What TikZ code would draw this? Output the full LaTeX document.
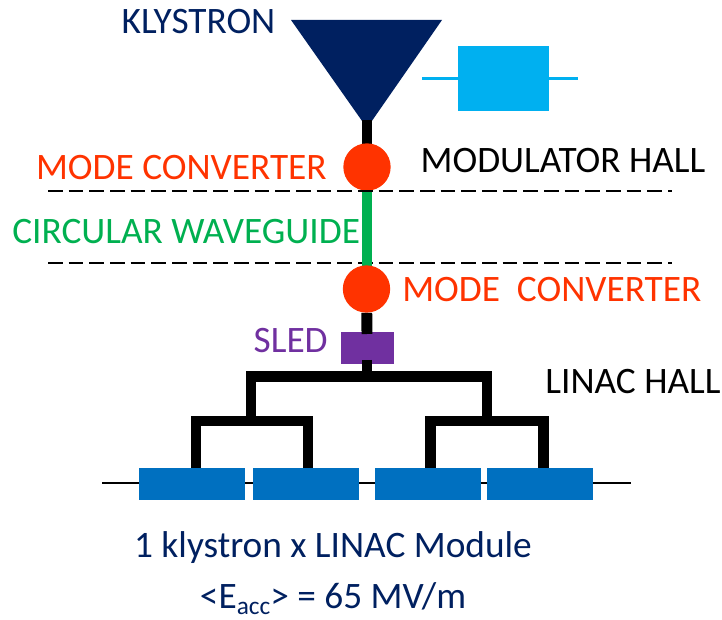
\documentclass[tikz,border=0pt]{standalone}
\usepackage{fontspec}
\setmainfont{Carlito}
\usepackage{tikz}
\usetikzlibrary{positioning,calc}
\definecolor{klynavy}{HTML}{002060}
\definecolor{modcyan}{HTML}{00B0F0}
\definecolor{convred}{HTML}{FF3300}
\definecolor{wggreen}{HTML}{00B050}
\definecolor{sledpurple}{HTML}{7030A0}
\definecolor{linacblue}{HTML}{0070C0}

\begin{document}
\begin{tikzpicture}[x=0.75pt,y=-0.75pt,
    label/.style={font=\fontsize{28}{32}\selectfont,inner sep=0pt},
    converter/.style={circle,fill=convred,minimum size=35.5pt,inner sep=0pt},
    module/.style={fill=linacblue,minimum width=80pt,minimum height=24pt,inner sep=0pt},
    feed/.style={line width=8.2pt,black,line join=miter},
    hall/.style={black,line width=1.3pt,dash pattern=on 11pt off 4.5pt}]
    \useasboundingbox (0,0) rectangle (722,620);

    % Klystron
    \coordinate (klyW) at (291,20);
    \coordinate (klyE) at (442,20);
    \coordinate (klyTip) at (367,128);
    \coordinate (klyOut) at (367,120);
    \fill[klynavy] (klyW) -- (klyE) -- (klyTip) -- cycle;
    \node[label,text=klynavy] (klystron) at (198.5,22) {KLYSTRON};

    % Modulator
    \coordinate (modW) at (422,78.5);
    \coordinate (modE) at (578,78.5);
    \draw[modcyan,line width=1.6pt] (modW) -- (modE);
    \node[fill=modcyan,minimum width=68.25pt,minimum height=48.75pt,inner sep=0pt] (modulator) at (503.5,78.5) {};

    % Line from klystron down to the first converter
    \coordinate (convAin) at (367,150);
    \draw[feed] (klyOut) -- (convAin);

    % Lower hall boundary, under the waveguide
    \coordinate (hallBw) at (48,263);
    \coordinate (hallBe) at (672,263);
    \draw[hall] (hallBw) -- (hallBe);

    % Circular waveguide between the halls
    \coordinate (wgTop) at (367,185);
    \coordinate (wgBot) at (367,270);
    \draw[wggreen,line width=8.2pt] (wgTop) -- (wgBot);

    % Mode converters
    \node[converter] (convA) at (367,167) {};
    \node[converter] (convB) at (366.5,289) {};
    \node[label,text=convred,anchor=east] (convAlabel) at (327,168) {MODE CONVERTER};
    \node[label,text=convred,anchor=west] (convBlabel) at (402,290) {MODE\ \ CONVERTER};
    \node[label] (modhall) at (563,161) {MODULATOR HALL};
    \node[label,text=wggreen,anchor=west] (wglabel) at (12,232) {CIRCULAR WAVEGUIDE};

    % Upper hall boundary, over the waveguide
    \coordinate (hallAw) at (48,191);
    \coordinate (hallAe) at (672,191);
    \draw[hall] (hallAw) -- (hallAe);

    % SLED
    \node[fill=sledpurple,minimum width=39.75pt,minimum height=24pt,inner sep=0pt] (sled) at (367,348) {};
    \node[label,text=sledpurple,anchor=east] (sledlabel) at (328,341) {SLED};
    \coordinate (sledIn) at (367,334);
    \coordinate (sledOut) at (367,360);
    \coordinate (busTop) at (367,376.5);
    \draw[feed] (convB) -- (sledIn);
    \draw[feed] (sledOut) -- (busTop);

    % Accelerating modules
    \coordinate (beamW) at (102,483);
    \coordinate (beamE) at (631,483);
    \draw[black,line width=1.3pt] (beamW) -- (beamE);
    \node[module] (modA) at (192,484) {};
    \node[module] (modB) at (306,484) {};
    \node[module] (modC) at (428,484) {};
    \node[module] (modD) at (540,484) {};

    % Waveguide tree
    \coordinate (feedA) at (196,468);
    \coordinate (feedB) at (308,468);
    \coordinate (feedC) at (430.5,468);
    \coordinate (feedD) at (543.5,468);
    \coordinate (splitL) at (251,421);
    \coordinate (splitR) at (487,421);
    \draw[feed] (feedA) |- (splitL) -| (feedB);
    \draw[feed] (feedC) |- (splitR) -| (feedD);
    \draw[feed] (splitL) |- (busTop) -| (splitR);

    \node[label] (linachall) at (633,382) {LINAC HALL};
    \node[label,text=klynavy] (caption) at (333,548) {1 klystron x LINAC Module};
    \node[label,text=klynavy,anchor=base] (gradient) at (333,609) {<E\raisebox{-4pt}{\fontsize{19}{19}\selectfont acc}> = 65 MV/m};
\end{tikzpicture}
\end{document}
